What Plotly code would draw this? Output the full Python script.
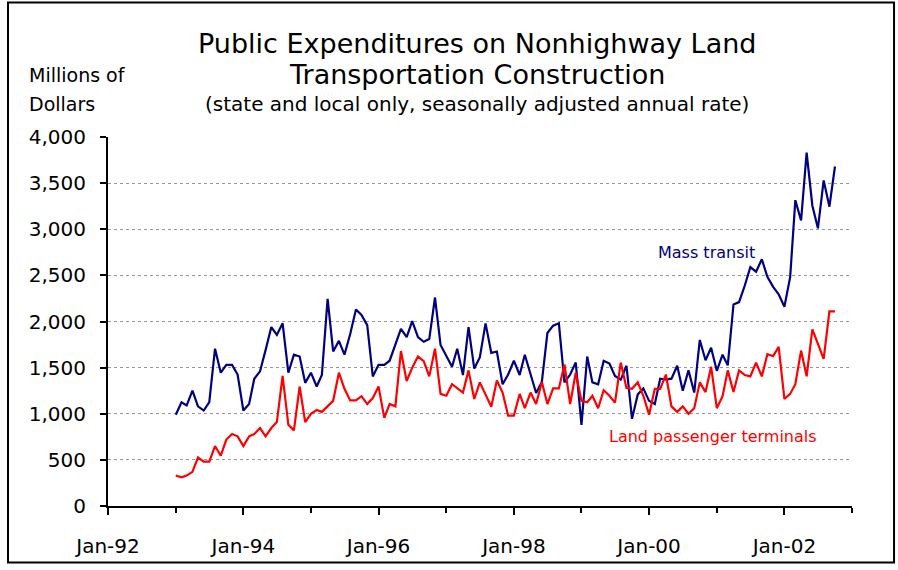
import pandas as pd
import plotly.graph_objects as go

# Monthly series, Jan-1993 onward (millions of dollars, SAAR)
start_month = "1993-01-01"

mass_transit = [
    990, 1125, 1090, 1250, 1080, 1035, 1125, 1705, 1445, 1530, 1530, 1425,
    1035, 1105, 1380, 1460, 1690, 1940, 1855, 1980, 1445, 1640, 1620, 1335,
    1445, 1295, 1420, 2245, 1675, 1790, 1640, 1865, 2130, 2070, 1960, 1405,
    1530, 1530, 1575, 1750, 1920, 1830, 2005, 1830, 1780, 1810, 2260, 1745,
    1625, 1510, 1705, 1420, 1940, 1490, 1610, 1980, 1660, 1675, 1320, 1425,
    1575, 1420, 1640, 1420, 1225, 1345, 1875, 1955, 1980, 1340, 1425, 1555,
    880, 1620, 1340, 1320, 1575, 1545, 1410, 1370, 1520, 945, 1210, 1275,
    1140, 1105, 1380, 1370, 1380, 1520, 1250, 1470, 1230, 1800, 1580, 1715,
    1465, 1640, 1525, 2185, 2210, 2390, 2590, 2540, 2675, 2485, 2375, 2295,
    2160, 2480, 3315, 3095, 3830, 3255, 3010, 3530, 3245, 3680,
]

land_terminals = [
    330, 310, 330, 370, 525, 480, 480, 650, 545, 720, 780, 755,
    650, 755, 780, 845, 755, 845, 910, 1410, 880, 820, 1295, 910,
    1000, 1040, 1020, 1080, 1140, 1445, 1270, 1145, 1145, 1190, 1105, 1170,
    1295, 955, 1105, 1080, 1680, 1355, 1500, 1620, 1570, 1405, 1705, 1215,
    1195, 1320, 1275, 1230, 1470, 1160, 1340, 1215, 1075, 1360, 1230, 980,
    980, 1215, 1060, 1230, 1105, 1345, 1105, 1275, 1275, 1535, 1105, 1445,
    1140, 1125, 1195, 1060, 1255, 1195, 1120, 1555, 1280, 1270, 1340, 1195,
    990, 1270, 1270, 1425, 1080, 1020, 1080, 1000, 1060, 1340, 1235, 1510,
    1060, 1190, 1470, 1235, 1470, 1420, 1405, 1555, 1405, 1645, 1625, 1725,
    1160, 1215, 1320, 1685, 1405, 1915, 1755, 1595, 2110, 2110,
]

months = pd.date_range(start_month, periods=len(mass_transit), freq="MS")

title_lines = [
    "Public Expenditures on Nonhighway Land",
    "Transportation Construction",
    "(state and local only, seasonally adjusted annual rate)",
]
unit_lines = ["Millions of", "Dollars"]

NAVY = "#000080"
RED = "#FF0000"
FONT = "DejaVu Sans"

fig = go.Figure()
fig.add_trace(go.Scatter(x=months, y=mass_transit, mode="lines",
                         line=dict(color=NAVY, width=2.2), name="Mass transit"))
fig.add_trace(go.Scatter(x=months, y=land_terminals, mode="lines",
                         line=dict(color=RED, width=2.2),
                         name="Land passenger terminals"))

# Series labels placed beside the lines
fig.add_annotation(x="2000-02-06", y=2745, xref="x", yref="y", text="Mass transit",
                   showarrow=False, xanchor="left", yanchor="middle",
                   font=dict(family=FONT, size=16, color=NAVY))
fig.add_annotation(x="1999-05-20", y=750, xref="x", yref="y",
                   text="Land passenger terminals", showarrow=False,
                   xanchor="left", yanchor="middle",
                   font=dict(family=FONT, size=16, color=RED))

# Three-line heading
for text, yp, size in zip(title_lines, [1.2547, 1.169, 1.0885], [27, 27, 20]):
    fig.add_annotation(x=0.496, y=yp, xref="paper", yref="paper", text=text,
                       showarrow=False, xanchor="center", yanchor="middle",
                       font=dict(family=FONT, size=size, color="black"))

# Unit label at top-left
for text, yp in zip(unit_lines, [1.169, 1.0885]):
    fig.add_annotation(x=-0.1089, y=yp, xref="paper", yref="paper", text=text,
                       showarrow=False, xanchor="left", yanchor="middle",
                       font=dict(family=FONT, size=19, color="black"))

# Outer frame around the whole chart
fig.add_shape(type="rect", xref="paper", yref="paper",
              x0=-0.1344, x1=1.0565, y0=-0.1528, y1=1.3646,
              line=dict(color="black", width=2), fillcolor="rgba(0,0,0,0)")

fig.update_layout(
    width=898, height=570,
    margin=dict(l=108, r=46, t=137, b=60),
    paper_bgcolor="white", plot_bgcolor="white",
    showlegend=False,
    font=dict(family=FONT, color="black"),
)

fig.update_xaxes(
    type="date", range=["1992-01-01", "2003-01-01"],
    tick0="1992-01-01", dtick="M24", tickformat="%b-%y",
    ticks="outside", ticklen=7, tickwidth=2, tickcolor="black",
    showline=True, linecolor="black", linewidth=2,
    showgrid=False, zeroline=False,
    tickfont=dict(family=FONT, size=20, color="black"),
    ticklabelstandoff=14,
    minor=dict(dtick="M12", tick0="1992-01-01", ticks="outside",
               ticklen=5, tickwidth=2, tickcolor="black", showgrid=False),
)

fig.update_yaxes(
    range=[0, 4000], dtick=500, tickformat=",",
    ticks="outside", ticklen=6, tickwidth=1.5, tickcolor="black",
    showline=True, linecolor="black", linewidth=2,
    showgrid=True, gridcolor="#999999", griddash="dot", gridwidth=1,
    zeroline=False,
    tickfont=dict(family=FONT, size=20, color="black"),
    ticklabelstandoff=10,
)

fig.write_html("out.html")
